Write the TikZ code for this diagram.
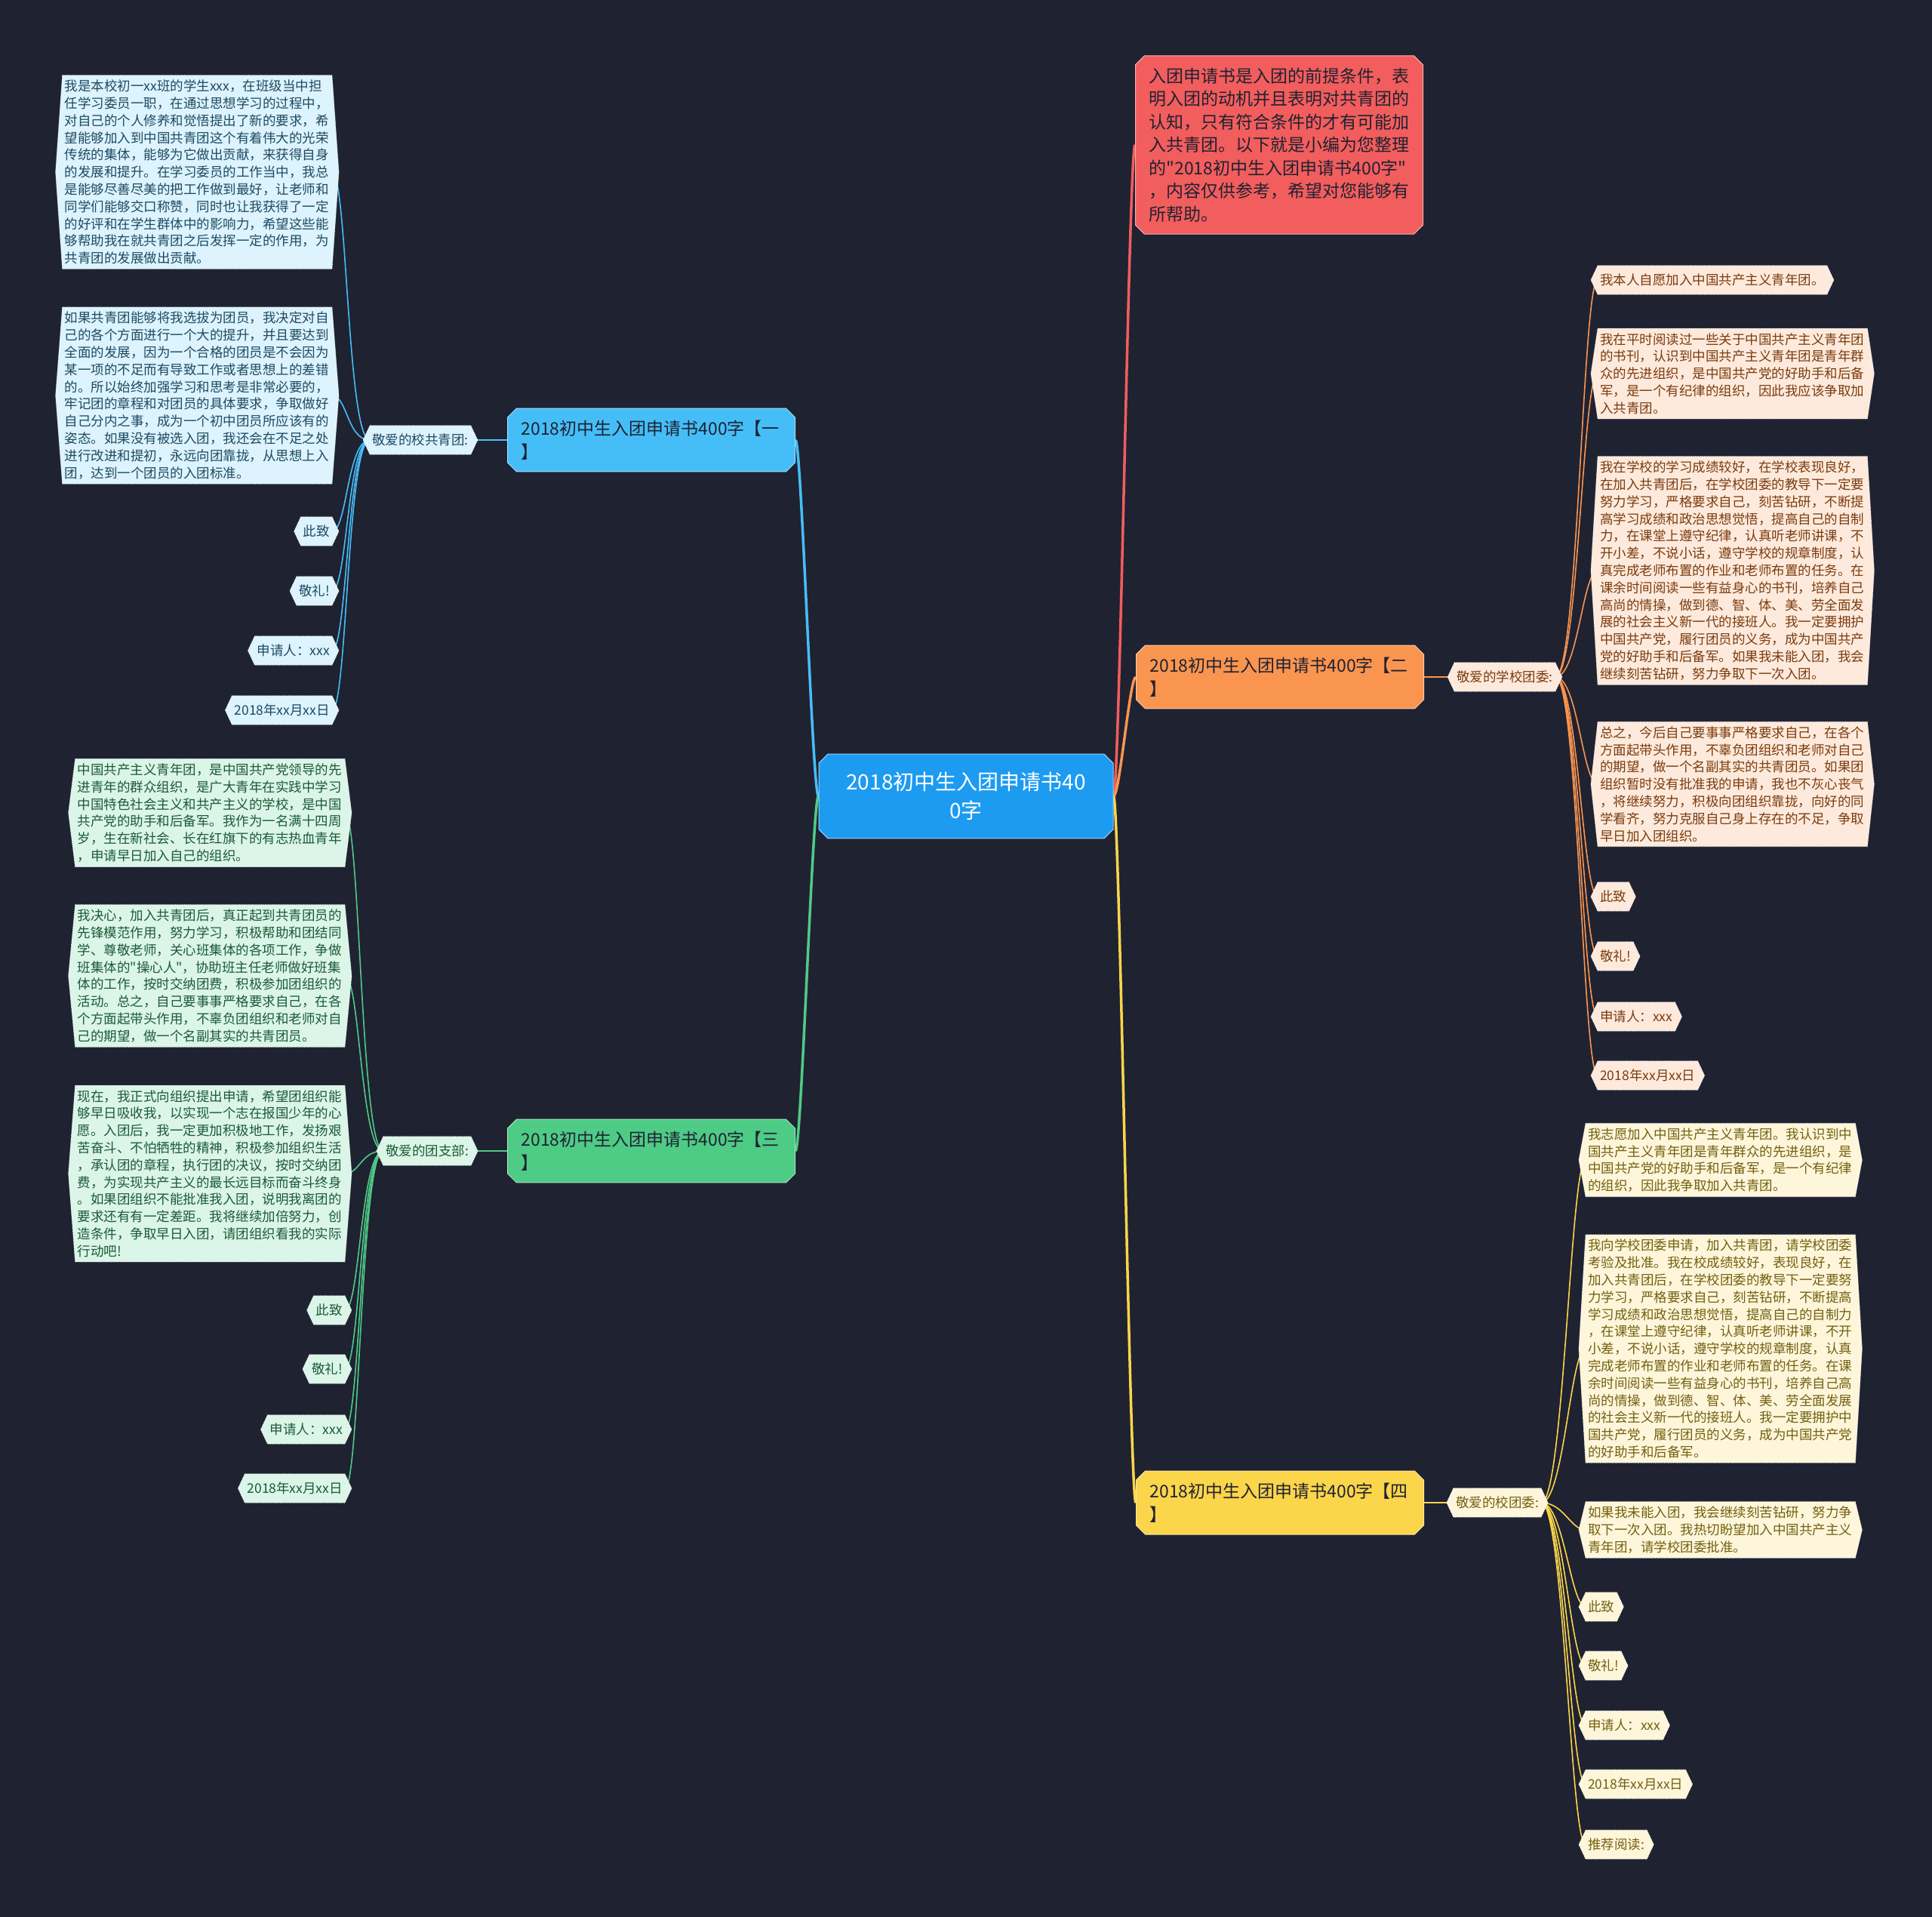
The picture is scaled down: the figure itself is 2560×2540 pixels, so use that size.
\documentclass[tikz,border=0pt]{standalone}
\usepackage{fontspec}
\setmainfont{Noto Sans CJK SC}
\usepackage{tikz}
\usetikzlibrary{positioning,shapes.misc,calc}
\definecolor{night}        {HTML}{1F2231}
\definecolor{sky}          {HTML}{1C9BF1}
\definecolor{azure}        {HTML}{45BEF8}
\definecolor{coral}        {HTML}{F25D5D}
\definecolor{tangerine}    {HTML}{FA9550}
\definecolor{jade}         {HTML}{4ECB85}
\definecolor{sun}          {HTML}{FBD54A}
\definecolor{azurepale}    {HTML}{DDF3FD}
\definecolor{jadepale}     {HTML}{DBF5E8}
\definecolor{tangerinepale}{HTML}{FEEADC}
\definecolor{sunpale}      {HTML}{FEF6DB}
\definecolor{azureink}     {HTML}{1D4A63}
\definecolor{jadeink}      {HTML}{1C5A37}
\definecolor{tangerineink} {HTML}{7A3B0E}
\definecolor{sunink}       {HTML}{73600F}
\newcommand\rootsize{\fontsize{28}{38}\selectfont}
\newcommand\branchsize{\fontsize{23}{30.5}\selectfont}
\newcommand\leafsize{\fontsize{17.5}{22.8}\selectfont}
\newcommand\qq{\textquotedbl}
\pgfdeclarelayer{back}
\pgfdeclarelayer{links}
\pgfdeclarelayer{plates}
\pgfsetlayers{back,links,plates,main}
% hexagon plate behind a leaf node
\newcommand\plate[2]{%
  \path[fill=#2, draw=white, densely dotted, line width=0.7pt]
    (#1.north west) -- (#1.north east) -- ([xshift=9pt]#1.east) -- (#1.south east)
    -- (#1.south west) -- ([xshift=-9pt]#1.west) -- cycle;}
\tikzset{
  % --- nodes
  hub/.style   = {chamfered rectangle, chamfered rectangle xsep=6pt, chamfered rectangle ysep=6pt,
                  fill=sky, draw=white!55!sky, line width=1pt, text=white, align=center,
                  text width=350pt, inner xsep=14pt, inner ysep=18pt, font=\rootsize},
  topic/.style = {chamfered rectangle, chamfered rectangle xsep=6pt, chamfered rectangle ysep=6pt,
                  fill=#1, draw=white!50!#1, line width=1pt, text=night, align=left,
                  text width=345pt, inner xsep=12pt, inner ysep=10pt, font=\branchsize},
  leaf/.style  = {text=#1, inner xsep=3pt, minimum height=38pt, align=left, font=\leafsize},
  block/.style = {leaf=#1, text width=351pt, inner ysep=6pt},
  % --- edges
  trunk/.style = {draw=#1, line width=3.5pt},
  stem/.style  = {draw=#1, line width=2.5pt},
  twig/.style  = {draw=#1, line width=1.6pt},
}

\begin{document}
\begin{tikzpicture}[x=1pt,y=-1pt]
  \useasboundingbox (0,0) rectangle (2560,2540);
  \begin{pgfonlayer}{back}
    \fill[night] (0,0) rectangle (2560,2540);
  \end{pgfonlayer}

  \node[hub] (root) at (1280,1055) {2018初中生入团申请书40\\0字};
  \node[topic=coral] (intro) at (1695,192) {入团申请书是入团的前提条件，表\\明入团的动机并且表明对共青团的\\认知，只有符合条件的才有可能加\\入共青团。以下就是小编为您整理\\的\qq 2018初中生入团申请书400字\qq\\，内容仅供参考，希望对您能够有\\所帮助。};
  \node[topic=azure] (one) at (863,583) {2018初中生入团申请书400字【一\\】};
  \node[topic=tangerine] (two) at (1696,897) {2018初中生入团申请书400字【二\\】};
  \node[topic=jade] (three) at (863,1525) {2018初中生入团申请书400字【三\\】};
  \node[topic=sun] (four) at (1696,1991) {2018初中生入团申请书400字【四\\】};

  % --- branch one
  \node[leaf=azureink] (greet1) at (557,583) {敬爱的校共青团:};
  \node[block=azureink, anchor=east] (b1) at (440,228) {我是本校初一xx班的学生xxx，在班级当中担\\任学习委员一职，在通过思想学习的过程中，\\对自己的个人修养和觉悟提出了新的要求，希\\望能够加入到中国共青团这个有着伟大的光荣\\传统的集体，能够为它做出贡献，来获得自身\\的发展和提升。在学习委员的工作当中，我总\\是能够尽善尽美的把工作做到最好，让老师和\\同学们能够交口称赞，同时也让我获得了一定\\的好评和在学生群体中的影响力，希望这些能\\够帮助我在就共青团之后发挥一定的作用，为\\共青团的发展做出贡献。};
  \node[block=azureink, anchor=east] (b2) at (440,524) {如果共青团能够将我选拔为团员，我决定对自\\己的各个方面进行一个大的提升，并且要达到\\全面的发展，因为一个合格的团员是不会因为\\某一项的不足而有导致工作或者思想上的差错\\的。所以始终加强学习和思考是非常必要的，\\牢记团的章程和对团员的具体要求，争取做好\\自己分内之事，成为一个初中团员所应该有的\\姿态。如果没有被选入团，我还会在不足之处\\进行改进和提初，永远向团靠拢，从思想上入\\团，达到一个团员的入团标准。};
  \node[leaf=azureink, anchor=east] (b3) at (440,704) {此致};
  \node[leaf=azureink, anchor=east] (b4) at (440,783) {敬礼!};
  \node[leaf=azureink, anchor=east] (b5) at (440,862) {申请人：xxx};
  \node[leaf=azureink, anchor=east] (b6) at (440,941) {2018年xx月xx日};

  % --- branch three
  \node[leaf=jadeink] (greet3) at (566,1525) {敬爱的团支部:};
  \node[block=jadeink, anchor=east] (g1) at (457,1077) {中国共产主义青年团，是中国共产党领导的先\\进青年的群众组织，是广大青年在实践中学习\\中国特色社会主义和共产主义的学校，是中国\\共产党的助手和后备军。我作为一名满十四周\\岁，生在新社会、长在红旗下的有志热血青年\\，申请早日加入自己的组织。};
  \node[block=jadeink, anchor=east] (g2) at (457,1293) {我决心，加入共青团后，真正起到共青团员的\\先锋模范作用，努力学习，积极帮助和团结同\\学、尊敬老师，关心班集体的各项工作，争做\\班集体的\qq 操心人\qq，协助班主任老师做好班集\\体的工作，按时交纳团费，积极参加团组织的\\活动。总之，自己要事事严格要求自己，在各\\个方面起带头作用，不辜负团组织和老师对自\\己的期望，做一个名副其实的共青团员。};
  \node[block=jadeink, anchor=east] (g3) at (457,1555) {现在，我正式向组织提出申请，希望团组织能\\够早日吸收我，以实现一个志在报国少年的心\\愿。入团后，我一定更加积极地工作，发扬艰\\苦奋斗、不怕牺牲的精神，积极参加组织生活\\，承认团的章程，执行团的决议，按时交纳团\\费，为实现共产主义的最长远目标而奋斗终身\\。如果团组织不能批准我入团，说明我离团的\\要求还有有一定差距。我将继续加倍努力，创\\造条件，争取早日入团，请团组织看我的实际\\行动吧!};
  \node[leaf=jadeink, anchor=east] (g4) at (457,1736) {此致};
  \node[leaf=jadeink, anchor=east] (g5) at (457,1814) {敬礼!};
  \node[leaf=jadeink, anchor=east] (g6) at (457,1894) {申请人：xxx};
  \node[leaf=jadeink, anchor=east] (g7) at (457,1972) {2018年xx月xx日};

  % --- branch two
  \node[leaf=tangerineink] (greet2) at (1994,897) {敬爱的学校团委:};
  \node[leaf=tangerineink, anchor=west] (o1) at (2117,371) {我本人自愿加入中国共产主义青年团。};
  \node[block=tangerineink, anchor=west] (o2) at (2117,495) {我在平时阅读过一些关于中国共产主义青年团\\的书刊，认识到中国共产主义青年团是青年群\\众的先进组织，是中国共产党的好助手和后备\\军，是一个有纪律的组织，因此我应该争取加\\入共青团。};
  \node[block=tangerineink, anchor=west] (o3) at (2117,756) {我在学校的学习成绩较好，在学校表现良好，\\在加入共青团后，在学校团委的教导下一定要\\努力学习，严格要求自己，刻苦钻研，不断提\\高学习成绩和政治思想觉悟，提高自己的自制\\力，在课堂上遵守纪律，认真听老师讲课，不\\开小差，不说小话，遵守学校的规章制度，认\\真完成老师布置的作业和老师布置的任务。在\\课余时间阅读一些有益身心的书刊，培养自己\\高尚的情操，做到德、智、体、美、劳全面发\\展的社会主义新一代的接班人。我一定要拥护\\中国共产党，履行团员的义务，成为中国共产\\党的好助手和后备军。如果我未能入团，我会\\继续刻苦钻研，努力争取下一次入团。};
  \node[block=tangerineink, anchor=west] (o4) at (2117,1039) {总之，今后自己要事事严格要求自己，在各个\\方面起带头作用，不辜负团组织和老师对自己\\的期望，做一个名副其实的共青团员。如果团\\组织暂时没有批准我的申请，我也不灰心丧气\\，将继续努力，积极向团组织靠拢，向好的同\\学看齐，努力克服自己身上存在的不足，争取\\早日加入团组织。};
  \node[leaf=tangerineink, anchor=west] (o5) at (2117,1188) {此致};
  \node[leaf=tangerineink, anchor=west] (o6) at (2117,1267) {敬礼!};
  \node[leaf=tangerineink, anchor=west] (o7) at (2117,1347) {申请人：xxx};
  \node[leaf=tangerineink, anchor=west] (o8) at (2117,1425) {2018年xx月xx日};

  % --- branch four
  \node[leaf=sunink] (greet4) at (1984,1991) {敬爱的校团委:};
  \node[block=sunink, anchor=west] (y1) at (2101,1537) {我志愿加入中国共产主义青年团。我认识到中\\国共产主义青年团是青年群众的先进组织，是\\中国共产党的好助手和后备军，是一个有纪律\\的组织，因此我争取加入共青团。};
  \node[block=sunink, anchor=west] (y2) at (2101,1787) {我向学校团委申请，加入共青团，请学校团委\\考验及批准。我在校成绩较好，表现良好，在\\加入共青团后，在学校团委的教导下一定要努\\力学习，严格要求自己，刻苦钻研，不断提高\\学习成绩和政治思想觉悟，提高自己的自制力\\，在课堂上遵守纪律，认真听老师讲课，不开\\小差，不说小话，遵守学校的规章制度，认真\\完成老师布置的作业和老师布置的任务。在课\\余时间阅读一些有益身心的书刊，培养自己高\\尚的情操，做到德、智、体、美、劳全面发展\\的社会主义新一代的接班人。我一定要拥护中\\国共产党，履行团员的义务，成为中国共产党\\的好助手和后备军。};
  \node[block=sunink, anchor=west] (y3) at (2101,2027) {如果我未能入团，我会继续刻苦钻研，努力争\\取下一次入团。我热切盼望加入中国共产主义\\青年团，请学校团委批准。};
  \node[leaf=sunink, anchor=west] (y4) at (2101,2129) {此致};
  \node[leaf=sunink, anchor=west] (y5) at (2101,2207) {敬礼!};
  \node[leaf=sunink, anchor=west] (y6) at (2101,2286) {申请人：xxx};
  \node[leaf=sunink, anchor=west] (y7) at (2101,2364) {2018年xx月xx日};
  \node[leaf=sunink, anchor=west] (y8) at (2101,2444) {推荐阅读:};

  \begin{pgfonlayer}{plates}
    \foreach \n in {greet1,b1,b2,b3,b4,b5,b6}{\plate{\n}{azurepale}}
    \foreach \n in {greet3,g1,g2,g3,g4,g5,g6,g7}{\plate{\n}{jadepale}}
    \foreach \n in {greet2,o1,o2,o3,o4,o5,o6,o7,o8}{\plate{\n}{tangerinepale}}
    \foreach \n in {greet4,y1,y2,y3,y4,y5,y6,y7,y8}{\plate{\n}{sunpale}}
  \end{pgfonlayer}

  \begin{pgfonlayer}{links}
    \foreach \t/\c in {one/azure,three/jade}
      \draw[trunk=\c] (root.west) .. controls +(-8,0) and +(8,0) .. (\t.east);
    \foreach \t/\c in {intro/coral,two/tangerine,four/sun}
      \draw[trunk=\c] (root.east) .. controls +(8,0) and +(-8,0) .. (\t.west);
    \draw[stem=azure] (one.west) -- (greet1.east);
    \draw[stem=jade] (three.west) -- (greet3.east);
    \draw[stem=tangerine] (two.east) -- (greet2.west);
    \draw[stem=sun] (four.east) -- (greet4.west);
    \foreach \n in {b1,b2,b3,b4,b5,b6}
      \draw[twig=azure] (greet1.west) .. controls +(-30,0) and +(20,0) .. (\n.east);
    \foreach \n in {g1,g2,g3,g4,g5,g6,g7}
      \draw[twig=jade] (greet3.west) .. controls +(-30,0) and +(20,0) .. (\n.east);
    \foreach \n in {o1,o2,o3,o4,o5,o6,o7,o8}
      \draw[twig=tangerine] (greet2.east) .. controls +(30,0) and +(-20,0) .. (\n.west);
    \foreach \n in {y1,y2,y3,y4,y5,y6,y7,y8}
      \draw[twig=sun] (greet4.east) .. controls +(30,0) and +(-20,0) .. (\n.west);
  \end{pgfonlayer}
\end{tikzpicture}
\end{document}
